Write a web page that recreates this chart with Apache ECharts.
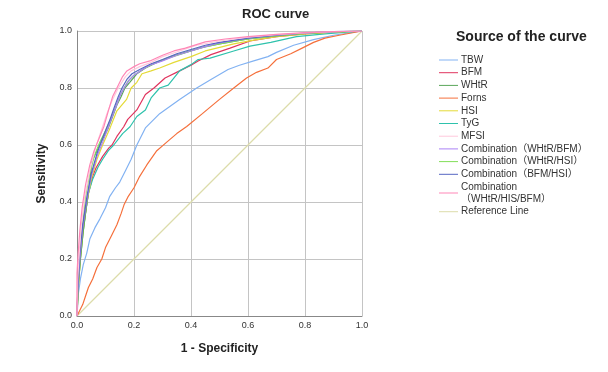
<!DOCTYPE html>
<html>
<head>
<meta charset="utf-8">
<script src="https://cdn.jsdelivr.net/npm/echarts@6/dist/echarts.min.js"></script>
<style>
  html, body { margin: 0; padding: 0; background: #fff; }
  #chart { width: 608px; height: 372px; }
</style>
</head>
<body>
<div id="chart"></div>
<script>
// ==============================
// 데이터 (ROC curve, [1 - specificity, sensitivity])
// ==============================

const seriesNames = [
  'TBW', 'BFM', 'WHtR', 'Forns', 'HSI', 'TyG', 'MFSI',
  'Combination（WHtR/BFM）', 'Combination（WHtR/HSI）', 'Combination（BFM/HSI）',
  'Combination\n（WHtR/HIS/BFM）', 'Reference Line'
];

const tbw = [[0,0],[0.005,0.08],[0.012,0.13],[0.022,0.18],[0.034,0.22],[0.045,0.27],[0.063,0.31],[0.08,0.34],[0.1,0.38],[0.115,0.42],[0.135,0.45],[0.15,0.47],[0.17,0.51],[0.19,0.55],[0.21,0.6],[0.24,0.66],[0.29,0.71],[0.36,0.76],[0.42,0.8],[0.47,0.83],[0.53,0.865],[0.57,0.88],[0.62,0.895],[0.67,0.91],[0.7,0.925],[0.76,0.95],[0.83,0.97],[0.9,0.985],[1,1]];
const bfm = [[0,0],[0.003,0.1],[0.01,0.2],[0.018,0.28],[0.028,0.35],[0.04,0.43],[0.055,0.49],[0.067,0.52],[0.09,0.56],[0.112,0.59],[0.123,0.6],[0.14,0.63],[0.164,0.664],[0.178,0.69],[0.21,0.723],[0.225,0.75],[0.24,0.777],[0.27,0.8],[0.309,0.835],[0.36,0.86],[0.4,0.88],[0.425,0.895],[0.47,0.917],[0.537,0.94],[0.607,0.965],[0.7,0.98],[0.8,0.99],[0.9,0.996],[1,1]];
const whtr = [[0,0],[0.004,0.1],[0.012,0.2],[0.022,0.3],[0.035,0.4],[0.045,0.47],[0.052,0.54],[0.07,0.58],[0.09,0.62],[0.11,0.66],[0.125,0.7],[0.14,0.74],[0.155,0.77],[0.168,0.8],[0.185,0.82],[0.21,0.85],[0.24,0.87],[0.28,0.89],[0.33,0.91],[0.38,0.925],[0.45,0.945],[0.5,0.955],[0.6,0.972],[0.7,0.983],[0.8,0.992],[0.9,0.997],[1,1]];
const forns = [[0,0],[0.01,0.02],[0.02,0.04],[0.03,0.07],[0.04,0.1],[0.055,0.13],[0.07,0.17],[0.087,0.2],[0.1,0.24],[0.12,0.28],[0.14,0.32],[0.155,0.36],[0.165,0.39],[0.18,0.42],[0.2,0.45],[0.22,0.49],[0.245,0.53],[0.28,0.58],[0.315,0.61],[0.35,0.64],[0.385,0.665],[0.44,0.71],[0.5,0.76],[0.55,0.8],[0.595,0.835],[0.63,0.855],[0.67,0.87],[0.7,0.9],[0.75,0.92],[0.79,0.94],[0.83,0.96],[0.87,0.975],[0.92,0.985],[1,1]];
const hsi = [[0,0],[0.005,0.1],[0.012,0.2],[0.022,0.3],[0.035,0.4],[0.05,0.48],[0.07,0.55],[0.09,0.6],[0.116,0.66],[0.14,0.72],[0.157,0.74],[0.174,0.76],[0.19,0.8],[0.21,0.82],[0.228,0.85],[0.26,0.86],[0.29,0.87],[0.34,0.89],[0.4,0.91],[0.45,0.93],[0.49,0.94],[0.55,0.955],[0.62,0.968],[0.7,0.98],[0.8,0.99],[0.9,0.996],[1,1]];
const tyg = [[0,0],[0.004,0.1],[0.012,0.2],[0.02,0.28],[0.03,0.36],[0.04,0.43],[0.055,0.48],[0.074,0.523],[0.09,0.55],[0.11,0.58],[0.129,0.6],[0.16,0.64],[0.186,0.664],[0.21,0.7],[0.24,0.723],[0.26,0.765],[0.29,0.8],[0.32,0.81],[0.36,0.86],[0.4,0.882],[0.425,0.9],[0.467,0.905],[0.55,0.93],[0.607,0.947],[0.68,0.96],[0.77,0.98],[0.87,0.99],[1,1]];
const mfsi = [[0,0],[0.002,0.12],[0.008,0.22],[0.015,0.32],[0.028,0.42],[0.045,0.51],[0.065,0.59],[0.085,0.65],[0.105,0.71],[0.125,0.76],[0.145,0.8],[0.17,0.84],[0.19,0.86],[0.22,0.875],[0.26,0.89],[0.3,0.91],[0.36,0.93],[0.42,0.95],[0.5,0.965],[0.6,0.978],[0.7,0.987],[0.8,0.993],[0.9,0.998],[1,1]];
const combWhtrBfm = [[0,0],[0.003,0.1],[0.01,0.2],[0.02,0.31],[0.035,0.41],[0.05,0.49],[0.07,0.56],[0.09,0.61],[0.105,0.65],[0.12,0.69],[0.135,0.73],[0.15,0.77],[0.165,0.8],[0.185,0.83],[0.2,0.845],[0.23,0.865],[0.256,0.88],[0.3,0.895],[0.35,0.915],[0.4,0.93],[0.45,0.945],[0.5,0.958],[0.6,0.975],[0.7,0.985],[0.8,0.993],[0.9,0.998],[1,1]];
const combWhtrHsi = [[0,0],[0.004,0.12],[0.01,0.22],[0.02,0.32],[0.03,0.42],[0.045,0.5],[0.06,0.56],[0.08,0.61],[0.1,0.65],[0.118,0.69],[0.135,0.73],[0.15,0.77],[0.165,0.8],[0.18,0.825],[0.2,0.845],[0.23,0.865],[0.27,0.885],[0.32,0.905],[0.37,0.92],[0.43,0.94],[0.5,0.955],[0.6,0.972],[0.7,0.984],[0.8,0.992],[0.9,0.997],[1,1]];
const combBfmHsi = [[0,0],[0.003,0.1],[0.01,0.22],[0.02,0.32],[0.035,0.42],[0.05,0.5],[0.07,0.57],[0.088,0.62],[0.1,0.65],[0.116,0.69],[0.13,0.73],[0.145,0.77],[0.158,0.8],[0.175,0.83],[0.193,0.85],[0.22,0.865],[0.26,0.885],[0.3,0.9],[0.35,0.92],[0.4,0.935],[0.45,0.95],[0.5,0.96],[0.6,0.975],[0.7,0.985],[0.8,0.993],[0.9,0.998],[1,1]];
const combAll = [[0,0],[0,0.15],[0.004,0.22],[0.01,0.3],[0.018,0.38],[0.03,0.46],[0.045,0.53],[0.06,0.58],[0.072,0.61],[0.094,0.664],[0.11,0.72],[0.125,0.77],[0.14,0.8],[0.16,0.84],[0.175,0.86],[0.2,0.875],[0.22,0.885],[0.256,0.895],[0.3,0.915],[0.34,0.93],[0.38,0.94],[0.45,0.962],[0.52,0.972],[0.6,0.98],[0.7,0.988],[0.8,0.994],[0.9,0.998],[1,1]];
const refLine = [[0,0],[1,1]];

const axisTicks = [0, 0.2, 0.4, 0.6, 0.8, 1.0];

const curveData = [tbw, bfm, whtr, forns, hsi, tyg, mfsi, combWhtrBfm, combWhtrHsi, combBfmHsi, combAll, refLine];
const curveColors = ['#82b2f2', '#e0345e', '#5aa65a', '#f5703c', '#e4da36', '#2ec2ac', '#ffc8dc', '#aa80f6', '#82de58', '#5666c2', '#ff86b6', '#dcdcaa'];

// ==============================
// 차트
// ==============================

const chart = echarts.init(document.getElementById('chart'));
const FONT = 'Arial, "Liberation Sans", "Noto Sans CJK SC", sans-serif';

// 참조선은 맨 아래에 그림
const drawOrder = [11, 0, 3, 1, 5, 4, 2, 8, 7, 9, 6, 10];

const series = drawOrder.map(i => ({
  name: seriesNames[i],
  type: 'line',
  data: curveData[i],
  symbol: 'none',
  silent: true,
  z: 2,
  lineStyle: { color: curveColors[i], width: 1.2 },
  itemStyle: { color: curveColors[i] }
}));

chart.setOption({
  animation: false,
  title: {
    text: 'ROC curve',
    left: 237,
    top: 3,
    textStyle: { fontFamily: FONT, fontSize: 13, fontWeight: 'bold', color: '#222' }
  },
  graphic: [{
    type: 'text',
    left: 456,
    top: 30,
    style: { text: 'Source of the curve', fontFamily: FONT, fontSize: 14, fontWeight: 'bold', fill: '#222' }
  }],
  legend: {
    data: seriesNames,
    orient: 'vertical',
    left: 434,
    top: 49,
    itemWidth: 19,
    itemHeight: 8,
    itemGap: 0.7,
    icon: 'path://M0,0 L19,0 L19,1 L0,1 Z',
    selectedMode: false,
    textStyle: { fontFamily: FONT, fontSize: 10, color: '#333', lineHeight: 12, padding: [0, 0, 0, -2] }
  },
  grid: { left: 77, right: 246, top: 31, bottom: 56 },
  xAxis: {
    type: 'value',
    min: 0, max: 1, interval: 0.2,
    name: '1 - Specificity',
    nameLocation: 'middle',
    nameGap: 27,
    nameTextStyle: { fontFamily: FONT, fontSize: 12, fontWeight: 'bold', color: '#222' },
    axisLine: { show: true, lineStyle: { color: '#888', width: 1 } },
    axisTick: { show: false },
    splitLine: { show: true, lineStyle: { color: '#c4c4c4', width: 1 } },
    axisLabel: {
      fontFamily: FONT, fontSize: 9, color: '#333', margin: 5,
      customValues: axisTicks,
      formatter: v => v.toFixed(1)
    }
  },
  yAxis: {
    type: 'value',
    min: 0, max: 1, interval: 0.2,
    name: 'Sensitivity',
    nameLocation: 'middle',
    nameGap: 29,
    nameTextStyle: { fontFamily: FONT, fontSize: 12, fontWeight: 'bold', color: '#222' },
    axisLine: { show: true, lineStyle: { color: '#888', width: 1 } },
    axisTick: { show: false },
    splitLine: { show: true, lineStyle: { color: '#c4c4c4', width: 1 } },
    axisLabel: {
      fontFamily: FONT, fontSize: 9, color: '#333', margin: 5,
      formatter: v => v.toFixed(1)
    }
  },
  series
});
</script>
</body>
</html>
